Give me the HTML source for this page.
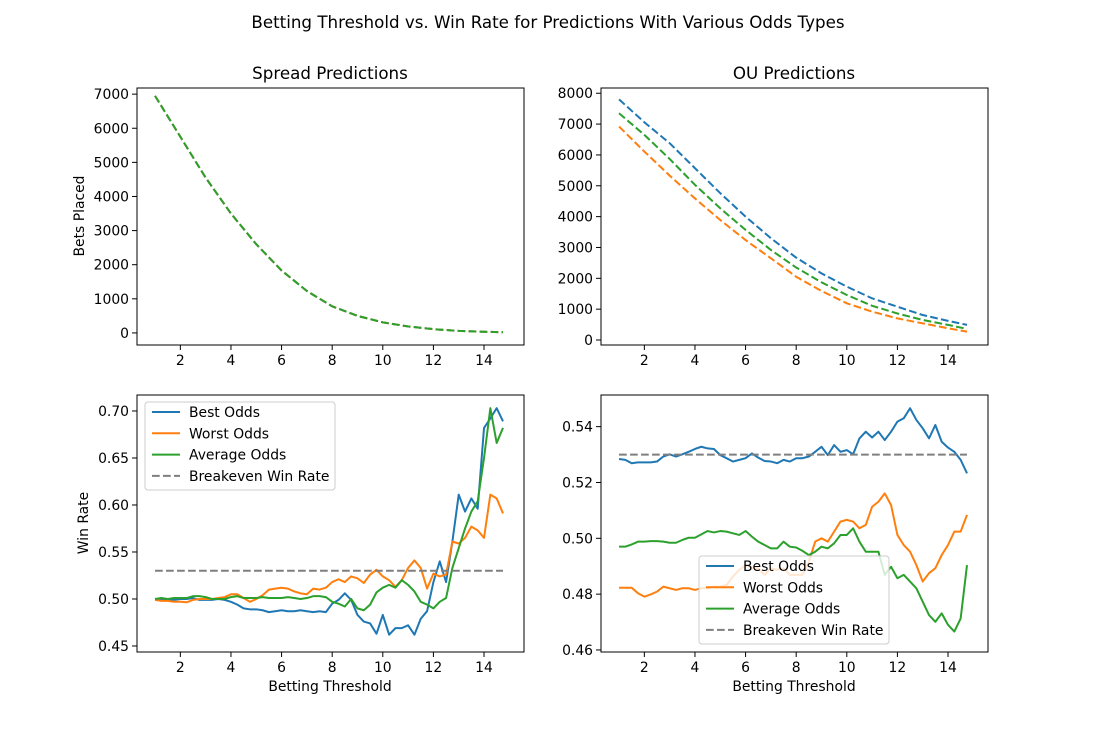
<!DOCTYPE html>
<html><head><meta charset="utf-8">
<style>
html,body{margin:0;padding:0;background:#fff;}
svg{display:block;font-family:"DejaVu Sans","Liberation Sans",sans-serif;}
</style></head>
<body>
<svg id="fig" width="1097" height="731" viewBox="0 0 1097 731">
<rect x="0" y="0" width="1097" height="731" fill="#fff"/>
<text x="548" y="28" font-size="16.7" text-anchor="middle" fill="#000">Betting Threshold vs. Win Rate for Predictions With Various Odds Types</text>
</svg>
<script>
// ---- data ----
const countThresholds = [1,2,3,4,5,6,7,8,9,10,11,12,13,14,14.75];
const spreadBets = [6950,5750,4550,3500,2600,1830,1230,780,500,310,190,110,60,35,20];
const ouBest = [7800,7060,6380,5570,4760,4000,3300,2670,2160,1730,1350,1080,810,620,490];
const ouAvg = [7350,6650,5870,5030,4270,3570,2920,2350,1870,1460,1110,860,650,490,360];
const ouWorst = [6920,6110,5330,4590,3890,3240,2650,2050,1590,1190,920,700,540,380,270];

const thresholds = Array.from({length:56},(_,i)=>1+i*0.25);
const spreadBestWin = [.499,.500,.499,.499,.500,.500,.501,.499,.499,.499,.500,.499,.497,.494,.490,.489,.489,.488,.486,.487,.488,.487,.487,.488,.487,.486,.487,.486,.495,.499,.506,.499,.483,.476,.474,.463,.483,.462,.469,.469,.472,.462,.479,.487,.518,.540,.518,.561,.611,.593,.607,.596,.682,.692,.703,.689];
const spreadWorstWin = [.499,.498,.498,.497,.497,.4965,.499,.500,.500,.500,.501,.502,.505,.505,.501,.497,.500,.504,.510,.511,.512,.511,.508,.506,.505,.511,.510,.512,.518,.521,.518,.524,.522,.517,.526,.531,.524,.520,.513,.520,.533,.541,.533,.511,.527,.524,.526,.561,.559,.565,.577,.573,.565,.611,.607,.591];
const spreadAvgWin = [.500,.501,.500,.501,.501,.501,.503,.503,.502,.500,.500,.500,.502,.503,.501,.501,.501,.502,.501,.501,.501,.502,.501,.500,.501,.503,.503,.502,.497,.495,.492,.500,.490,.488,.494,.507,.512,.515,.512,.520,.515,.508,.497,.494,.490,.497,.501,.533,.554,.575,.593,.604,.650,.703,.666,.682];
const ouBestWin = [.5284,.5281,.5269,.5272,.5272,.5272,.5275,.5293,.5301,.5293,.5301,.5310,.5320,.5328,.5322,.5320,.5298,.5287,.5275,.5281,.5287,.5304,.5289,.5277,.5275,.5269,.5281,.5275,.5287,.5287,.5293,.5310,.5328,.5298,.5334,.5310,.5316,.5301,.5358,.5382,.5361,.5382,.5352,.5382,.5418,.5430,.5466,.5424,.5394,.5358,.5406,.5346,.5325,.5310,.5281,.5233];
const ouWorstWin = [.4823,.4823,.4823,.4803,.4791,.4799,.4809,.4827,.4821,.4815,.4821,.4821,.4815,.4821,.4821,.4827,.4827,.4833,.4863,.4887,.4904,.4893,.4893,.4869,.4893,.4887,.4893,.4869,.4869,.4869,.4916,.4988,.5000,.4988,.5024,.5060,.5066,.5060,.5036,.5048,.5113,.5131,.5161,.5119,.5012,.4976,.4952,.4904,.4845,.4875,.4893,.4940,.4976,.5024,.5024,.5084];
const ouAvgWin = [.4970,.4970,.4978,.4988,.4988,.4990,.4990,.4988,.4984,.4984,.4994,.5002,.5002,.5014,.5026,.5021,.5026,.5024,.5018,.5012,.5026,.5006,.4988,.4976,.4964,.4964,.4988,.4970,.4967,.4955,.4940,.4952,.4970,.4964,.4982,.5012,.5012,.5036,.4988,.4952,.4952,.4952,.4869,.4898,.4857,.4869,.4845,.4821,.4773,.4725,.4701,.4731,.4690,.4666,.4713,.4904];
const breakeven = 0.53;
const xTicks = [2,4,6,8,10,12,14];
const ticksTL = [0,1000,2000,3000,4000,5000,6000,7000];
const ticksTR = [0,1000,2000,3000,4000,5000,6000,7000,8000];
const ticksBL = [0.45,0.50,0.55,0.60,0.65,0.70];
const ticksBR = [0.46,0.48,0.50,0.52,0.54];

const NS="http://www.w3.org/2000/svg";
const svg=document.getElementById('fig');
const C={b:'#1f77b4',o:'#ff7f0e',g:'#2ca02c',k:'#7f7f7f'};
const FS=13.9;
function mk(tag,attrs,parent){const e=document.createElementNS(NS,tag);for(const k in attrs)e.setAttribute(k,attrs[k]);(parent||svg).appendChild(e);return e;}

function panel(name,L,T,W,H,xmin,xmax,ymin,ymax){
  const g=mk('g',{});
  
  
  return {g,L,T,W,H,
    x:v=>L+(v-xmin)/(xmax-xmin)*W,
    y:v=>T+H-(v-ymin)/(ymax-ymin)*H};
}
function axes(p,yt,fmt){
  for(const t of xTicks){
    const x=p.x(t);
    const tk=mk('line',{x1:x,x2:x,y1:p.T+p.H,y2:p.T+p.H+5,stroke:'#000','stroke-width':1},p.g);
    
    
    const tl=mk('text',{x:x,y:p.T+p.H+20,'font-size':FS,'text-anchor':'middle'},p.g);tl.textContent=t;
    
    
  }
  for(const t of yt){
    const y=p.y(t);
    const tk=mk('line',{x1:p.L-5,x2:p.L,y1:y,y2:y,stroke:'#000','stroke-width':1},p.g);
    
    
    const tl=mk('text',{x:p.L-8,y:y+5,'font-size':FS,'text-anchor':'end'},p.g);tl.textContent=fmt(t);
    
    
  }
}
function frame(p){
  const r=mk('rect',{x:p.L,y:p.T,width:p.W,height:p.H,fill:'none',stroke:'#000','stroke-width':1},p.g);
  
  
}
function line(p,xs,ys,color,dash,name){
  const d=xs.map((v,i)=>(i?'L':'M')+p.x(v).toFixed(2)+','+p.y(ys[i]).toFixed(2)).join('');
  const a={d:d,fill:'none',stroke:color,'stroke-width':2,'stroke-linejoin':'round'};
  if(dash)a['stroke-dasharray']='7.7,3.3';
  const e=mk('path',a,p.g);
  
  
}
function hline(p,v,name){
  const e=mk('line',{x1:p.x(thresholds[0]),x2:p.x(thresholds[thresholds.length-1]),y1:p.y(v),y2:p.y(v),stroke:C.k,'stroke-width':2,'stroke-dasharray':'7.7,3.3'},p.g);
  
  
}
function txt(x,y,s,size,anchor,name,rot){
  const a={x:x,y:y,'font-size':size,'text-anchor':anchor};
  if(rot)a.transform='rotate(-90 '+x+' '+y+')';
  const e=mk('text',a);e.textContent=s;
  
  
}
function legend(p,lx,ly,name){
  const g=mk('g',{},p.g);
  
  
  mk('rect',{x:lx,y:ly,width:190,height:88,rx:3,fill:'#fff','fill-opacity':0.8,stroke:'#cccccc','stroke-width':1},g);
  const items=[['Best Odds',C.b,0],['Worst Odds',C.o,0],['Average Odds',C.g,0],['Breakeven Win Rate',C.k,1]];
  items.forEach((it,i)=>{
    const yy=ly+10+i*21.3;
    const ln=mk('line',{x1:lx+7,x2:lx+35,y1:yy,y2:yy,stroke:it[1],'stroke-width':2},g);
    if(it[2])ln.setAttribute('stroke-dasharray','7.7,3.3');
    
    
    const t=mk('text',{x:lx+44,y:yy+5,'font-size':FS},g);t.textContent=it[0];
    
    
  });
}

const xmin=0.287,xmax=15.58;
const tl=panel('spread-bets-panel',137,88,387,257,xmin,xmax,-354,7180);
axes(tl,ticksTL,v=>v);
line(tl,countThresholds,spreadBets,C.b,1,'spread-best-bets-line');
line(tl,countThresholds,spreadBets,C.o,1,'spread-worst-bets-line');
line(tl,countThresholds,spreadBets,C.g,1,'spread-avg-bets-line');
frame(tl);
const tr=panel('ou-bets-panel',601,88,387,257,xmin,xmax,-162,8170);
axes(tr,ticksTR,v=>v);
line(tr,countThresholds,ouBest,C.b,1,'ou-best-bets-line');
line(tr,countThresholds,ouWorst,C.o,1,'ou-worst-bets-line');
line(tr,countThresholds,ouAvg,C.g,1,'ou-avg-bets-line');
frame(tr);
const bl=panel('spread-winrate-panel',137,395,387,257,xmin,xmax,0.4436,0.7170);
axes(bl,ticksBL,v=>v.toFixed(2));
line(bl,thresholds,spreadBestWin,C.b,0,'spread-best-winrate-line');
line(bl,thresholds,spreadWorstWin,C.o,0,'spread-worst-winrate-line');
line(bl,thresholds,spreadAvgWin,C.g,0,'spread-avg-winrate-line');
hline(bl,breakeven,'spread-breakeven-line');
legend(bl,145,402,'spread-legend');
frame(bl);
const br=panel('ou-winrate-panel',601,395,387,257,xmin,xmax,0.45927,0.55134);
axes(br,ticksBR,v=>v.toFixed(2));
line(br,thresholds,ouBestWin,C.b,0,'ou-best-winrate-line');
line(br,thresholds,ouWorstWin,C.o,0,'ou-worst-winrate-line');
line(br,thresholds,ouAvgWin,C.g,0,'ou-avg-winrate-line');
hline(br,breakeven,'ou-breakeven-line');
legend(br,699,556,'ou-legend');
frame(br);

txt(330,79,'Spread Predictions',16.7,'middle','spread-panel-title');
txt(794,79,'OU Predictions',16.7,'middle','ou-panel-title');
txt(84,216,'Bets Placed',FS,'middle','bets-y-axis-title',true);
txt(88,523,'Win Rate',FS,'middle','winrate-y-axis-title',true);
txt(330,691,'Betting Threshold',FS,'middle','spread-x-axis-title');
txt(794,691,'Betting Threshold',FS,'middle','ou-x-axis-title');
</script>
</body></html>
